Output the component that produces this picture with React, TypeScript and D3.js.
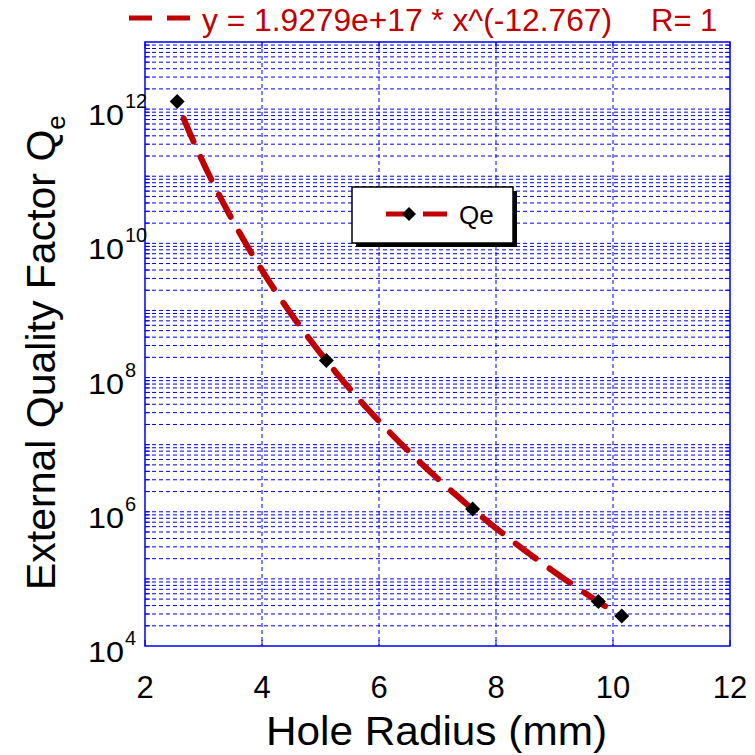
import React from "react";
import * as d3 from "d3";

const radius = [2.55, 5.1, 7.6, 9.75, 10.15];
const qe = [1.3e12, 1.8e8, 1.1e6, 4.6e4, 2.8e4];
const fitA = 1.9279e17;
const fitB = -12.767;
const xTicks = [2, 4, 6, 8, 10, 12];
const yLabelExps = [4, 6, 8, 10, 12];
const titleText = "y = 1.9279e+17 * x^(-12.767)";
const titleR = "R= 1";
const legendLabel = "Qe";

const W = 755;
const H = 755;
const L = 145, R = 730, T = 42, B = 646;
const RED = "#c00000";
const BLUE = "#0000ee";
const FONT = "'Liberation Sans', Arial, sans-serif";

export default function App() {
  const x = d3.scaleLinear().domain([2, 12]).range([L, R]);
  const y = d3.scaleLog().domain([1e4, 1e13]).range([B, T]);

  const gridVals: number[] = [];
  for (let e = 4; e < 13; e++) {
    for (let m = 1; m <= 9; m++) {
      const v = m * Math.pow(10, e);
      if (v > 1e4 && v < 1e13) gridVals.push(v);
    }
  }

  const fitXs = d3.range(0, 301).map((i) => radius[0] + (radius[radius.length - 1] - radius[0]) * (i / 300));
  const fitLine = d3
    .line<number>()
    .x((d) => x(d))
    .y((d) => y(fitA * Math.pow(d, fitB)));

  const diamondPath = (s: number) => {
    const h = s / 2;
    return `M0,${-h}L${h},0L0,${h}L${-h},0Z`;
  };

  return (
    <svg width={W} height={H} style={{ display: "block", position: "absolute", left: 0, top: 0 }} fontFamily={FONT}>
      <rect x={0} y={0} width={W} height={H} fill="#fff" />
      {gridVals.map((v, i) => (
        <line key={"h" + i} x1={L} x2={R} y1={y(v)} y2={y(v)} stroke={BLUE} strokeWidth={1} strokeDasharray="4 3" />
      ))}
      {xTicks.slice(1, -1).map((t) => (
        <line key={"v" + t} x1={x(t)} x2={x(t)} y1={T} y2={B} stroke={BLUE} strokeWidth={1} strokeDasharray="4 3" />
      ))}
      {gridVals.map((v, i) => (
        <g key={"mt" + i}>
          <line x1={L} x2={L + 5} y1={y(v)} y2={y(v)} stroke={BLUE} strokeWidth={1} />
          <line x1={R - 5} x2={R} y1={y(v)} y2={y(v)} stroke={BLUE} strokeWidth={1} />
        </g>
      ))}
      {xTicks.map((t) => (
        <g key={"xt" + t}>
          <line x1={x(t)} x2={x(t)} y1={B} y2={B - 6} stroke={BLUE} strokeWidth={1} />
          <line x1={x(t)} x2={x(t)} y1={T} y2={T + 6} stroke={BLUE} strokeWidth={1} />
        </g>
      ))}
      <rect x={L} y={T} width={R - L} height={B - T} fill="none" stroke={BLUE} strokeWidth={1.5} />

      <path
        d={fitLine(fitXs) ?? ""}
        fill="none"
        stroke={RED}
        strokeWidth={6}
        strokeDasharray="25 17"
        strokeDashoffset={25}
        strokeLinecap="round"
      />
      {radius.map((r, i) => (
        <path key={"m" + i} d={diamondPath(15)} transform={`translate(${x(r)},${y(qe[i])})`} fill="#000" />
      ))}

      {/* legend */}
      <rect x={356} y={191} width={161} height={56} fill="#000" />
      <rect x={352} y={187} width={161} height={56} fill="#fff" stroke="#000" strokeWidth={1.5} />
      <line x1={386} x2={407} y1={214} y2={214} stroke={RED} strokeWidth={5} />
      <line x1={423} x2={447} y1={214} y2={214} stroke={RED} strokeWidth={5} />
      <path d={diamondPath(14)} transform="translate(409,214)" fill="#000" />
      <text x={459} y={224} fontSize={26} fill="#000">{legendLabel}</text>

      {/* title */}
      <line x1={129} x2={152} y1={18} y2={18} stroke={RED} strokeWidth={5} />
      <line x1={167} x2={190} y1={18} y2={18} stroke={RED} strokeWidth={5} />
      <text x={202} y={31} fontSize={31} fill={RED} textLength={410} lengthAdjust="spacingAndGlyphs">{titleText}</text>
      <text x={651} y={31} fontSize={31} fill={RED}>{titleR}</text>

      {xTicks.map((t) => (
        <text key={"xl" + t} x={x(t)} y={698} fontSize={31} textAnchor="middle" fill="#000">{t}</text>
      ))}
      <text x={266} y={745} fontSize={40} fill="#000" textLength={341} lengthAdjust="spacingAndGlyphs">Hole Radius (mm)</text>

      {yLabelExps.map((e) => (
        <text key={"yl" + e} x={88} y={y(Math.pow(10, e)) + 16} fontSize={30} fill="#000" textLength={36} lengthAdjust="spacingAndGlyphs">
          10
        </text>
      ))}
      {yLabelExps.map((e) => (
        <text key={"ye" + e} x={125} y={y(Math.pow(10, e)) - 1} fontSize={20} textAnchor="start" fill="#000">
          {e}
        </text>
      ))}
      <text transform={`translate(55,590) rotate(-90)`} fontSize={41} fill="#000">
        External Quality Factor Q<tspan fontSize={26} dy={10}>e</tspan>
      </text>
    </svg>
  );
}
